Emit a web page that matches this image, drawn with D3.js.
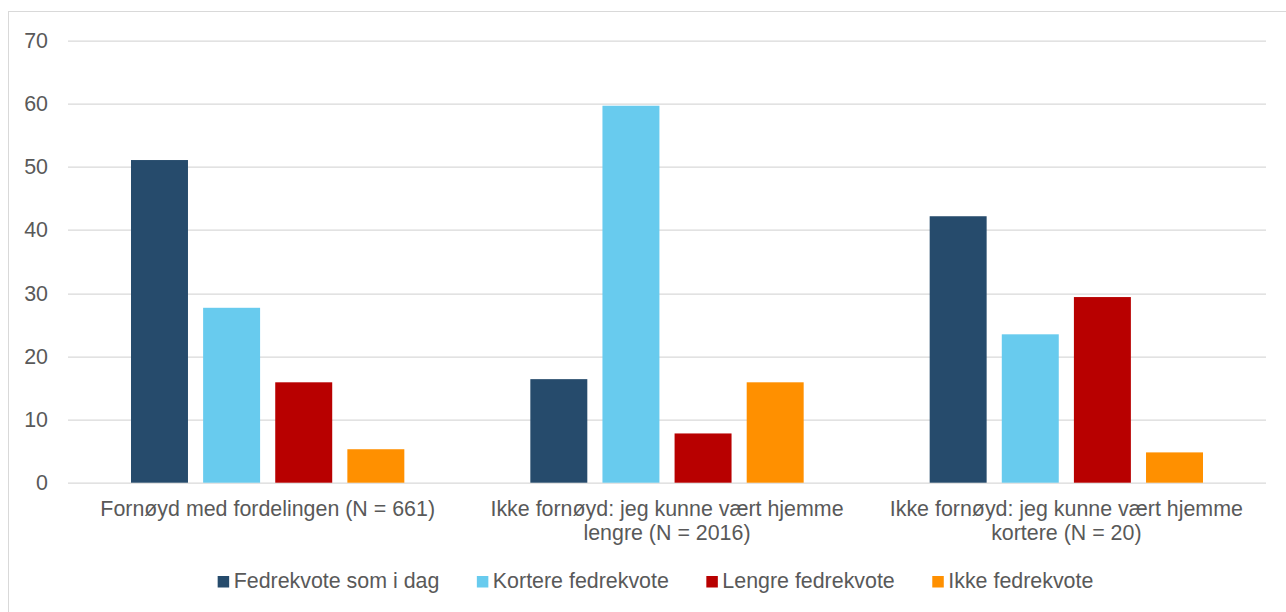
<!DOCTYPE html>
<html>
<head>
<meta charset="utf-8">
<script src="https://cdn.jsdelivr.net/npm/d3@7"></script>
<style>
  html, body { margin: 0; padding: 0; background: #fff; }
  svg { display: block; font-family: "Liberation Sans", Arial, sans-serif; }
</style>
</head>
<body>
<svg id="chart" width="1286" height="612"></svg>
<script>
const categories = [
  "Fornøyd med fordelingen (N = 661)",
  "Ikke fornøyd: jeg kunne vært hjemme lengre (N = 2016)",
  "Ikke fornøyd: jeg kunne vært hjemme kortere (N = 20)"
];
const seriesNames = ["Fedrekvote som i dag", "Kortere fedrekvote", "Lengre fedrekvote", "Ikke fedrekvote"];
const fedrekvoteSomIDag = [51.1, 16.4, 42.2];
const korterFedrekvote  = [27.7, 59.7, 23.5];
const lengreFedrekvote  = [15.9, 7.8, 29.4];
const ikkeFedrekvote    = [5.3, 15.9, 4.8];
const yTicks = [0, 10, 20, 30, 40, 50, 60, 70];

const seriesValues = [fedrekvoteSomIDag, korterFedrekvote, lengreFedrekvote, ikkeFedrekvote];
const colors = ["#264B6C", "#68CBEE", "#B80000", "#FF9000"];
const textColor = "#595959";
const gridColor = "#D9D9D9";
const fontSize = "21.4px";

const svg = d3.select("#chart");
const W = 1286, H = 612;
const frame = { x: 8, y: 11, w: 1295, h: 620 };
const margin = { left: 68, right: 20, top: 40.7, bottom: 129.3 };
const plotW = W - margin.left - margin.right;
const plotH = H - margin.top - margin.bottom;

// outer border
svg.append("rect")
  .attr("x", frame.x + 0.5).attr("y", frame.y + 0.5)
  .attr("width", frame.w).attr("height", frame.h)
  .attr("fill", "none").attr("stroke", gridColor).attr("stroke-width", 1);

const g = svg.append("g").attr("transform", `translate(${margin.left},${margin.top})`);

const y = d3.scaleLinear().domain([0, 70]).range([plotH, 0]);
const x0 = d3.scaleBand().domain(categories).range([0, plotW]).paddingInner(0).paddingOuter(0);
const innerPadOuter = 63;
const x1 = d3.scaleBand().domain(seriesNames)
  .range([innerPadOuter, x0.bandwidth() - innerPadOuter])
  .paddingInner(0.21).paddingOuter(0);

// gridlines
g.append("g").selectAll("line").data(yTicks).join("line")
  .attr("x1", 0).attr("x2", plotW)
  .attr("y1", d => Math.round(y(d)) + 0.5).attr("y2", d => Math.round(y(d)) + 0.5)
  .attr("stroke", gridColor).attr("stroke-width", 1.3);

// y axis labels
const yAxis = d3.axisLeft(y).tickValues(yTicks).tickSize(0).tickPadding(20);
const yg = g.append("g").call(yAxis);
yg.select(".domain").remove();
yg.selectAll("text")
  .attr("fill", textColor).style("font-size", fontSize)
  .style("font-family", "'Liberation Sans', Arial, sans-serif");

// bars
const groups = g.append("g").selectAll("g").data(categories).join("g")
  .attr("transform", d => `translate(${x0(d)},0)`);
groups.selectAll("rect")
  .data((c, ci) => seriesNames.map((s, si) => ({ s, si, v: seriesValues[si][ci] })))
  .join("rect")
  .attr("x", d => x1(d.s))
  .attr("width", x1.bandwidth())
  .attr("y", d => y(d.v))
  .attr("height", d => y(0) - y(d.v))
  .attr("fill", d => colors[d.si]);

// category labels with wrapping
const xAxis = d3.axisBottom(x0).tickSize(0).tickPadding(0);
const xg = g.append("g").attr("transform", `translate(0,${plotH})`).call(xAxis);
xg.select(".domain").remove();
xg.selectAll("text")
  .attr("fill", textColor).style("font-size", fontSize)
  .style("font-family", "'Liberation Sans', Arial, sans-serif")
  .attr("y", 0).attr("dy", null)
  .each(function(d) {
    const t = d3.select(this);
    const words = d.split(" ");
    const maxW = x0.bandwidth() - 20;
    t.text(null);
    let lines = [], cur = [];
    const probe = t.append("tspan");
    words.forEach(w => {
      const test = cur.concat([w]).join(" ");
      probe.text(test);
      if (probe.node().getComputedTextLength() > maxW && cur.length) {
        lines.push(cur.join(" "));
        cur = [w];
      } else cur.push(w);
    });
    lines.push(cur.join(" "));
    probe.remove();
    lines.forEach((ln, i) => {
      t.append("tspan").attr("x", 0).attr("y", 33 + i * 24.5).text(ln);
    });
  });

// legend
const legendY = 588;
const legend = svg.append("g");
const items = legend.selectAll("g").data(seriesNames).join("g");
items.append("rect").attr("width", 11.5).attr("height", 11.5)
  .attr("y", legendY - 12).attr("fill", (d, i) => colors[i]);
items.append("text").attr("x", 16).attr("y", legendY)
  .attr("fill", textColor).style("font-size", fontSize).text(d => d);
let widths = [];
items.each(function() { widths.push(this.getBBox().width); });
const gap = 37.5;
const totalW = d3.sum(widths) + gap * (widths.length - 1);
const startX = frame.x + frame.w / 2 - totalW / 2;
let pos = startX;
items.attr("transform", (d, i) => { const p = pos; pos += widths[i] + gap; return `translate(${p},0)`; });
</script>
</body>
</html>
